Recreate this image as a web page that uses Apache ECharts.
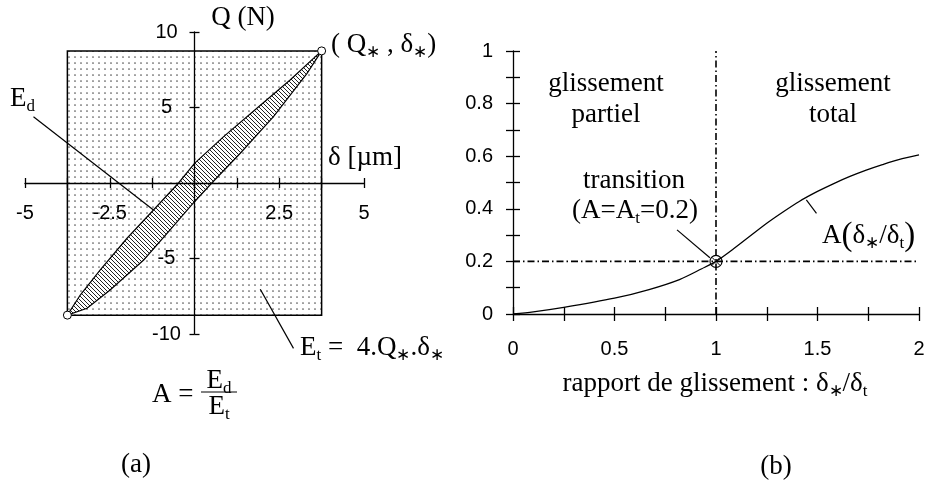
<!DOCTYPE html>
<html><head><meta charset="utf-8">
<script src="https://cdn.jsdelivr.net/npm/echarts@6/dist/echarts.min.js"></script>
<style>html,body{margin:0;padding:0;background:#fff}#c{width:926px;height:483px}</style>
</head><body><div id="c"></div>
<script>
// ---------- Panel (a) : hysteresis loop ----------
const boxDelta = [-3.75, 3.75];
const boxQ = [-8.75, 8.75];
const upperDelta = [-3.75, -3.37, -2.78, -1.99, -1.21, -0.47, 0, 0.86, 1.84, 2.82, 3.75];
const upperQ     = [-8.75, -7.42, -5.76, -3.66, -1.79, 0, 1.3, 3.07, 4.95, 6.82, 8.75];
const lowerDelta = [-3.75, -3.17, -2.49, -1.5, -0.72, 0, 0.51, 1.35, 2.33, 3.32, 3.75];
const lowerQ     = [-8.75, -8.3, -7.09, -5.1, -3.11, -1.24, 0, 1.97, 4.39, 7.26, 8.75];
const tipDelta = [-3.75, 3.75];
const tipQ = [-8.75, 8.75];
const xLabelsA = ['-5', '-2.5', '2.5', '5'];
const yLabelsA = ['-10', '-5', '5', '10'];

// ---------- Panel (b) : A vs slip ratio ----------
const ratio = [0, 0.1, 0.25, 0.5, 0.67, 0.82, 0.93, 1.0, 1.085, 1.25, 1.33, 1.41, 1.5, 1.58, 1.66, 1.74, 1.82, 1.9, 2.0];
const Aval  = [0, 0.008, 0.025, 0.06, 0.093, 0.131, 0.172, 0.2, 0.247, 0.345, 0.388, 0.428, 0.466, 0.496, 0.523, 0.547, 0.568, 0.587, 0.605];
const transitionPt = [1, 0.2];
const xLabelsB = ['0', '0.5', '1', '1.5', '2'];
const yLabelsB = ['0', '0.2', '0.4', '0.6', '0.8', '1'];

// ---------- patterns ----------
function dotPattern() {
  const s = 6;
  const c = document.createElement('canvas'); c.width = s; c.height = s;
  const g = c.getContext('2d');
  g.fillStyle = '#fff'; g.fillRect(0, 0, s, s);
  g.fillStyle = '#555'; g.beginPath(); g.arc(3, 3, 0.85, 0, Math.PI * 2); g.fill();
  return { image: c, repeat: 'repeat' };
}
function hatchPattern() {
  const w = 4, h = 4;
  const c = document.createElement('canvas'); c.width = w; c.height = h;
  const g = c.getContext('2d');
  g.fillStyle = '#fff'; g.fillRect(0, 0, w, h);
  g.strokeStyle = '#222'; g.lineWidth = 1;
  for (let k = -1; k <= 1; k++) {
    g.beginPath(); g.moveTo(k * w, 0); g.lineTo(k * w + w, h); g.stroke();
  }
  return { image: c, repeat: 'repeat' };
}
const DOTS = dotPattern();
const HATCH = hatchPattern();

const SANS = '"Liberation Sans", Arial, sans-serif';
const SERIF = '"Liberation Serif", "Times New Roman", serif';
const FS = 27;
const TICKFS = 20;
const rich = {
  n: { fontFamily: SERIF, fontSize: FS, lineHeight: 32, color: '#000' },
  s: { fontFamily: SERIF, fontSize: 17, lineHeight: 16, verticalAlign: 'bottom', color: '#000' },
  a: { fontFamily: SERIF, fontSize: 17, lineHeight: 19, verticalAlign: 'bottom', color: '#000' },
  p: { fontFamily: SERIF, fontSize: 33, lineHeight: 32, color: '#000' }
};
function fmt(list) {
  return v => { const s = String(+(+v).toFixed(2)); return list.includes(s) ? s : ''; };
}
const black = { color: '#000', width: 1.3 };

// grid geometry
const gridA = { left: 25, top: 32, width: 339, height: 302 };
const gridB = { left: 513, top: 51, width: 406, height: 263 };
const xRangeA = [-5, 5], yRangeA = [-10, 10];
// offsets put the panel (a) axes through the origin
const xOffA = -gridA.height * (0 - yRangeA[0]) / (yRangeA[1] - yRangeA[0]);
const yOffA = -gridA.width * (0 - xRangeA[0]) / (xRangeA[1] - xRangeA[0]);

function axisPair(grid, range, interval, tickLen, labelCfg, position, offset) {
  const main = {
    gridIndex: grid, type: 'value', min: range[0], max: range[1], interval, position, offset, z: 10,
    axisLine: { show: true, onZero: false, lineStyle: black },
    axisTick: { show: true, length: tickLen, inside: false, lineStyle: black },
    axisLabel: labelCfg, splitLine: { show: false }
  };
  const twin = {
    gridIndex: grid, type: 'value', min: range[0], max: range[1], interval, position, offset, z: 10,
    axisLine: { show: true, onZero: false, lineStyle: { color: '#000', width: 1.3, opacity: 0 } },
    axisTick: { show: true, length: tickLen, inside: true, lineStyle: black },
    axisLabel: { show: false }, splitLine: { show: false }
  };
  return [main, twin];
}

const xAxes = [
  ...axisPair(0, xRangeA, 1.25, 5, { margin: 20, fontFamily: SANS, fontSize: TICKFS, color: '#000', formatter: fmt(xLabelsA) }, 'bottom', xOffA),
  ...axisPair(1, [0, 2], 0.25, 7, { margin: 25, fontFamily: SANS, fontSize: TICKFS, color: '#000', formatter: fmt(xLabelsB) }, 'bottom', 0)
];
const yAxes = [
  ...axisPair(0, yRangeA, 5, 5, { margin: 28, align: 'center', fontFamily: SANS, fontSize: TICKFS, color: '#000', formatter: fmt(yLabelsA) }, 'left', yOffA),
  ...axisPair(1, [0, 1], 0.1, 7, { margin: 20, fontFamily: SANS, fontSize: TICKFS, color: '#000', formatter: fmt(yLabelsB) }, 'left', 0)
];

function txt(x, y, text, align) {
  return {
    type: 'text', x, y, z: 100,
    style: { text, rich, font: FS + 'px ' + SERIF, fill: '#000', align: align || 'center', verticalAlign: 'middle' }
  };
}

const leader = (pts, xi, yi) => ({
  type: 'line', xAxisIndex: xi, yAxisIndex: yi, data: pts, symbol: 'none', clip: false,
  lineStyle: { color: '#000', width: 1.2 }, z: 20, silent: true
});

const option = {
  animation: false,
  backgroundColor: '#fff',
  grid: [
    Object.assign({ outerBoundsMode: 'none', containLabel: false }, gridA),
    Object.assign({ outerBoundsMode: 'none', containLabel: false }, gridB)
  ],
  xAxis: xAxes,
  yAxis: yAxes,
  series: [
    {
      type: 'custom', xAxisIndex: 0, yAxisIndex: 0, z: 1, clip: false,
      data: boxDelta.map((d, i) => [d, boxQ[i]]),
      renderItem: (params, api) => {
        if (params.dataIndex !== 0) return null;
        const p0 = api.coord([boxDelta[0], boxQ[0]]);
        const p1 = api.coord([boxDelta[1], boxQ[1]]);
        return { type: 'rect', shape: { x: p0[0], y: p1[1], width: p1[0] - p0[0], height: p0[1] - p1[1] },
          style: { fill: DOTS, stroke: '#000', lineWidth: 1.5 } };
      }
    },
    {
      type: 'custom', xAxisIndex: 0, yAxisIndex: 0, z: 3, clip: false,
      data: upperDelta.map((d, i) => [d, upperQ[i]]),
      renderItem: (params, api) => {
        if (params.dataIndex !== 0) return null;
        const pts = [];
        upperDelta.forEach((d, i) => pts.push(api.coord([d, upperQ[i]])));
        for (let i = lowerDelta.length - 1; i >= 0; i--) pts.push(api.coord([lowerDelta[i], lowerQ[i]]));
        return { type: 'polygon', shape: { points: pts }, style: { fill: HATCH, stroke: '#000', lineWidth: 1.2 } };
      }
    },
    leader([[-4.75, 4.39], [-1.21, -1.79]], 0, 0),
    leader([[1.94, -7.04], [2.92, -10.95]], 0, 0),
    {
      type: 'scatter', xAxisIndex: 0, yAxisIndex: 0, z: 30, symbol: 'circle', symbolSize: 8,
      data: tipDelta.map((d, i) => [d, tipQ[i]]),
      itemStyle: { color: '#fff', borderColor: '#000', borderWidth: 1, opacity: 1 }, silent: true
    },
    // panel (b)
    {
      type: 'line', xAxisIndex: 2, yAxisIndex: 2, data: ratio.map((r, i) => [r, Aval[i]]),
      symbol: 'none', smooth: 0.3, lineStyle: { color: '#000', width: 1.3 }, z: 5, silent: true
    },
    {
      type: 'line', xAxisIndex: 2, yAxisIndex: 2, data: [[transitionPt[0], 0], [transitionPt[0], 1]],
      symbol: 'none', lineStyle: { color: '#000', width: 1.6, type: [7, 3, 1.5, 3] }, z: 4, silent: true
    },
    {
      type: 'line', xAxisIndex: 2, yAxisIndex: 2, data: [[0, transitionPt[1]], [2, transitionPt[1]]],
      symbol: 'none', lineStyle: { color: '#000', width: 1.6, type: [7, 3, 1.5, 3] }, z: 4, silent: true
    },
    leader([[0.808, 0.32], [0.97, 0.214]], 2, 2),
    leader([[1.445, 0.434], [1.495, 0.383]], 2, 2),
    {
      type: 'scatter', xAxisIndex: 2, yAxisIndex: 2, z: 30, symbol: 'circle', symbolSize: 12,
      data: [transitionPt], itemStyle: { color: 'rgba(255,255,255,0)', borderColor: '#000', borderWidth: 1.1, opacity: 1 }, silent: true
    },
    {
      type: 'scatter', xAxisIndex: 2, yAxisIndex: 2, z: 31, symbol: 'path://M0 0L10 10M10 0L0 10', symbolSize: 8,
      data: [transitionPt], itemStyle: { color: 'none', borderColor: '#000', borderWidth: 1, opacity: 1 }, silent: true
    }
  ],
  graphic: [
    txt(243, 18, '{n|Q (N)}'),
    txt(365, 158, '{n|δ [µm]}'),
    txt(331, 45, '{n|( Q}{a|∗}{n| , δ}{a|∗}{n|)}', 'left'),
    txt(10, 99, '{n|E}{s|d}', 'left'),
    txt(300, 348, '{n|E}{s|t}{n| =  4.Q}{a|∗}{n|.δ}{a|∗}', 'left'),
    txt(152, 395, '{n|A =}', 'left'),
    txt(219, 381, '{n|E}{s|d}'),
    txt(219, 407, '{n|E}{s|t}'),
    { type: 'line', z: 100, shape: { x1: 201, y1: 392, x2: 237, y2: 392 }, style: { stroke: '#000', lineWidth: 1 } },
    txt(136, 465, '{n|(a)}'),
    txt(606, 84, '{n|glissement}'),
    txt(606, 115, '{n|partiel}'),
    txt(833, 84, '{n|glissement}'),
    txt(833, 115, '{n|total}'),
    txt(634, 181, '{n|transition}'),
    txt(635, 211, '{n|(A=A}{s|t}{n|=0.2)}'),
    txt(822, 236, '{n|A}{p|(}{n|δ}{a|∗}{n|/δ}{s|t}{p|)}', 'left'),
    txt(715, 384, '{n|rapport de glissement : δ}{a|∗}{n|/δ}{s|t}'),
    txt(776, 467, '{n|(b)}')
  ]
};
const chart = echarts.init(document.getElementById('c'), null, { renderer: 'canvas' });
chart.setOption(option);
</script>
</body></html>
